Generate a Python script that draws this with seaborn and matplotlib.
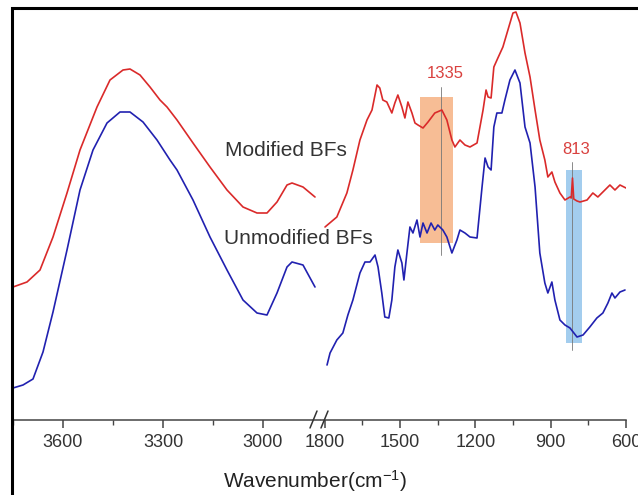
import numpy as np
import matplotlib
matplotlib.use("Agg")
import matplotlib.pyplot as plt
import seaborn as sns
import pandas as pd
from matplotlib.patches import Rectangle
from matplotlib.lines import Line2D

# FTIR spectra, transmittance in arbitrary units (offset curves)
# high-wavenumber part (3750-2845 cm-1)
wn_mod_hi = [3750, 3708, 3669, 3630, 3588, 3549, 3498, 3459, 3420, 3399, 3369, 3339, 3309, 3288,
             3258, 3210, 3159, 3108, 3060, 3018, 2988, 2958, 2928, 2913, 2880, 2844]
mod_hi = [13.3, 13.8, 15.0, 18.3, 22.7, 27.0, 31.3, 34.0, 35.0, 35.1, 34.5, 33.3, 32.0, 31.3,
          30.0, 27.7, 25.3, 23.0, 21.3, 20.7, 20.7, 21.8, 23.5, 23.7, 23.3, 22.3]

wn_unmod_hi = [3750, 3720, 3690, 3660, 3630, 3588, 3549, 3510, 3468, 3429, 3399, 3360, 3318, 3279,
               3258, 3210, 3159, 3108, 3060, 3018, 2988, 2958, 2928, 2913, 2880, 2844]
unmod_hi = [3.2, 3.5, 4.1, 6.8, 10.8, 17.0, 23.0, 27.0, 29.7, 30.8, 30.8, 29.8, 28.0, 26.0,
            25.0, 22.0, 18.3, 15.0, 12.0, 10.7, 10.5, 12.7, 15.3, 15.8, 15.5, 13.3]

# fingerprint part (1800-600 cm-1)
wn_mod_lo = [1798, 1751, 1711, 1687, 1659, 1631, 1611, 1591, 1580, 1568, 1552, 1532, 1520, 1508,
             1492, 1480, 1468, 1452, 1440, 1428, 1408, 1388, 1361, 1333, 1313, 1293, 1281, 1261,
             1241, 1221, 1193, 1169, 1157, 1149, 1137, 1126, 1110, 1090, 1070, 1050, 1038, 1022,
             1002, 982, 962, 943, 923, 911, 895, 883, 863, 843, 823, 818, 813, 808, 795, 783,
             755, 732, 712, 692, 676, 664, 644, 624, 600]
mod_lo = [19.3, 20.3, 22.7, 25.0, 28.0, 30.0, 31.0, 33.5, 33.2, 32.0, 31.8, 30.7, 31.7, 32.5,
          31.3, 30.2, 31.8, 30.7, 29.7, 29.5, 29.2, 29.8, 30.7, 31.0, 30.0, 28.0, 27.3, 28.0,
          27.5, 27.3, 27.7, 31.0, 33.0, 32.3, 32.2, 35.3, 36.2, 37.3, 39.0, 40.7, 40.8, 39.7,
          36.7, 34.3, 31.0, 28.0, 26.0, 24.3, 24.8, 23.8, 22.7, 22.0, 22.3, 22.2, 24.2, 22.1,
          21.9, 21.8, 22.0, 22.7, 22.3, 22.8, 23.2, 23.5, 23.0, 23.5, 23.2]

wn_unmod_lo = [1790, 1778, 1751, 1727, 1707, 1687, 1659, 1639, 1619, 1599, 1587, 1572, 1560, 1544,
               1532, 1520, 1508, 1492, 1484, 1472, 1460, 1448, 1432, 1420, 1408, 1392, 1376, 1361,
               1349, 1329, 1313, 1293, 1273, 1261, 1241, 1221, 1193, 1173, 1161, 1149, 1137, 1126,
               1114, 1094, 1082, 1062, 1042, 1022, 1002, 982, 962, 943, 923, 911, 895, 883, 863,
               843, 823, 795, 771, 744, 716, 692, 672, 656, 644, 624, 604]
unmod_lo = [5.5, 6.7, 8.0, 8.7, 10.5, 12.0, 14.7, 15.8, 15.8, 16.5, 15.3, 12.7, 10.3, 10.2,
            12.0, 15.3, 17.0, 15.7, 14.0, 16.7, 19.3, 18.7, 20.0, 18.3, 19.7, 18.7, 19.7, 19.0,
            19.5, 19.0, 18.3, 16.7, 18.0, 19.0, 18.7, 18.3, 18.2, 23.3, 26.2, 25.3, 25.0, 29.3,
            30.7, 30.7, 32.0, 34.0, 35.0, 33.7, 29.3, 27.7, 23.3, 16.7, 13.7, 12.7, 13.8, 12.0,
            10.0, 9.5, 9.2, 8.3, 8.5, 9.3, 10.2, 10.7, 11.7, 12.7, 12.2, 12.8, 13.0]

# highlighted bands
bands = [1335, 813]
band_spans = [(1420, 1290), (840, 775)]
band_y = [(17.7, 32.3), (7.7, 25.0)]
band_line_y = [(16.5, 33.3), (7.0, 25.8)]
band_label_y = [34.7, 27.0]
band_colors = ["#f7bd95", "#a3cdee"]

red = "#da2a2a"
blue = "#2121b0"

sns.set_style("white")
plt.rcParams['font.family'] = ['Liberation Sans', 'DejaVu Sans']
plt.rcParams['mathtext.fontset'] = 'custom'
plt.rcParams['mathtext.rm'] = 'Liberation Sans'
plt.rcParams['mathtext.it'] = 'Liberation Sans'

W, H = 638, 495
fig = plt.figure(figsize=(W / 100, H / 100), dpi=100)
ax1 = fig.add_axes([13 / W, 75 / H, 307 / W, 412 / H])
ax2 = fig.add_axes([321 / W, 75 / H, 305 / W, 412 / H])

hi = pd.DataFrame({"wn": wn_mod_hi, "t": mod_hi})
sns.lineplot(data=hi, x="wn", y="t", ax=ax1, color=red, lw=1.2, estimator=None)
hi2 = pd.DataFrame({"wn": wn_unmod_hi, "t": unmod_hi})
sns.lineplot(data=hi2, x="wn", y="t", ax=ax1, color=blue, lw=1.2, estimator=None)

# shaded bands behind the curves
for (a, b), (y0, y1), c in zip(band_spans, band_y, band_colors):
    ax2.fill_betweenx([y0, y1], a, b, color=c, lw=0, zorder=0)
for wn, (y0, y1), ly in zip(bands, band_line_y, band_label_y):
    ax2.plot([wn, wn], [y0, y1], color="#777777", lw=0.6, zorder=1)
    ax2.text(wn - 15, ly, str(wn), color="#d9413f", fontsize=12, ha="center", va="center")

lo = pd.DataFrame({"wn": wn_mod_lo, "t": mod_lo})
sns.lineplot(data=lo, x="wn", y="t", ax=ax2, color=red, lw=1.2, estimator=None)
lo2 = pd.DataFrame({"wn": wn_unmod_lo, "t": unmod_lo})
sns.lineplot(data=lo2, x="wn", y="t", ax=ax2, color=blue, lw=1.2, estimator=None)

ax1.set_xlim(3750, 2829)
ax2.set_xlim(1814, 600)
ax1.set_xticks([3600, 3300, 3000])
ax1.set_xticks([3750, 3450, 3150], minor=True)
ax2.set_xticks([1800, 1500, 1200, 900, 600])
ax2.set_xticks([1650, 1350, 1050, 750], minor=True)

for ax in (ax1, ax2):
    ax.set_ylim(0, 41.2)
    ax.set_yticks([])
    ax.set_xlabel("")
    ax.set_ylabel("")
    ax.set_facecolor("none")
    sns.despine(ax=ax, left=True)
    ax.spines["bottom"].set_color("#444444")
    ax.spines["bottom"].set_linewidth(1.1)
    ax.tick_params(axis="x", which="major", length=5.8, width=1.1, color="#444444",
                   labelsize=13, labelcolor="#333333", pad=4, direction="out", bottom=True)
    ax.tick_params(axis="x", which="minor", length=3.6, width=1.0, color="#444444",
                   direction="out", bottom=True)
    for ln in ax.lines:
        ln.set_solid_joinstyle("round")

ax1.text(3114, 26.9, "Modified BFs", fontsize=15, color="#333333", va="center", ha="left")
ax1.text(3117, 18.2, "Unmodified BFs", fontsize=15, color="#333333", va="center", ha="left")

fig.text(315 / W, 1 - 481 / H, r"Wavenumber(cm$^{-1}$)", ha="center", va="center",
         fontsize=15, color="#222222")

# axis break marks
for x0 in (310, 321):
    fig.add_artist(Line2D([x0 / W, (x0 + 7) / W], [1 - 428 / H, 1 - 411 / H],
                          color="#333333", lw=1.1))

# outer frame (cut by image edge on the right and bottom)
top = 1 - 8 / H
fig.add_artist(Rectangle((11.5 / W, -0.2), 1.2, top + 0.2, transform=fig.transFigure,
                         fill=False, edgecolor="black", lw=2.2))

fig.savefig("out.png", dpi=100, facecolor="white")
